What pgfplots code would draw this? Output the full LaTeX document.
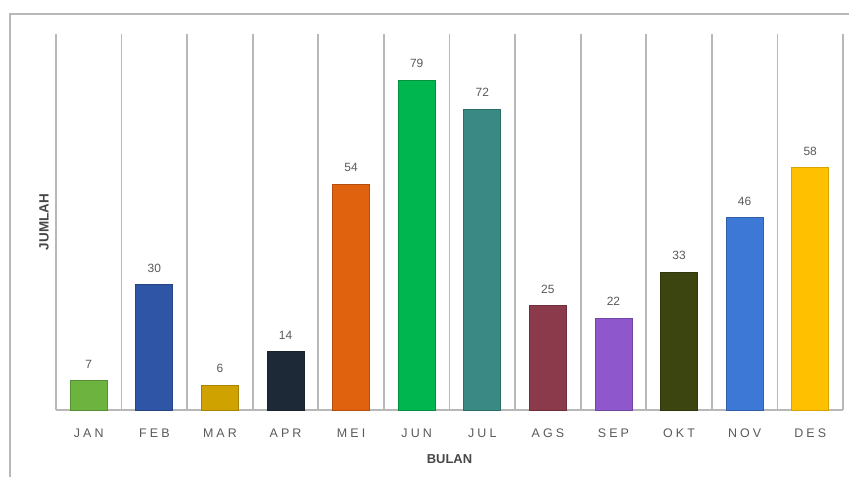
\documentclass[border=0pt]{standalone}
\usepackage{pgfplots}
\pgfplotsset{compat=1.18}
\usepackage{fontspec}
\setmainfont{Liberation Sans}
\newfontfamily\spacedfont[LetterSpace=25]{Liberation Sans}
\definecolor{gridgray}{HTML}{B8B8B8}
\definecolor{labgray}{HTML}{595959}
\definecolor{cJan}{HTML}{6CB43F}
\definecolor{cFeb}{HTML}{2F55A6}
\definecolor{cMar}{HTML}{CFA200}
\definecolor{cApr}{HTML}{1E2938}
\definecolor{cMei}{HTML}{E0620F}
\definecolor{cJun}{HTML}{00B74F}
\definecolor{cJul}{HTML}{3A8984}
\definecolor{cAgs}{HTML}{8A3A4A}
\definecolor{cSep}{HTML}{8E58CC}
\definecolor{cOkt}{HTML}{3C4410}
\definecolor{cNov}{HTML}{3D78D6}
\definecolor{cDes}{HTML}{FFC000}
\begin{document}
\begin{tikzpicture}[x=1bp,y=1bp]
\useasboundingbox (0,0) rectangle (849,477);
\draw[gridgray, line width=1.8bp] (10,0) -- (10,463) -- (849,463);
\node[rotate=90, font=\bfseries\fontsize{13.5}{15}\selectfont, text=labgray!80!black] at (44,255) {JUMLAH};
\begin{axis}[
  at={(56bp,67bp)}, anchor=south west,
  scale only axis, width=787bp, height=376bp,
  xmin=-0.5, xmax=11.5, ymin=0, ymax=90,
  axis x line*=bottom, axis y line=none,
  axis line style={gridgray, line width=1.6bp},
  xtick={0,...,11},
  xticklabels={JAN,FEB,MAR,APR,MEI,JUN,JUL,AGS,SEP,OKT,NOV,DES},
  major tick length=0pt,
  minor xtick={-0.5,0.5,...,11.5},
  minor tick length=0pt,
  xminorgrids=true,
  minor grid style={gridgray, line width=1.8bp},
  ytick=\empty,
  /pgf/number format/assume math mode=true,
  xticklabel style={font=\spacedfont\fontsize{12.5}{14}\selectfont, text=labgray, yshift=-15bp},
  xlabel={\textbf{BULAN}},
  xlabel style={font=\fontsize{13}{15}\selectfont, text=labgray!80!black, yshift=-10bp},
  ybar, bar width=37bp, bar shift=0pt,
  nodes near coords,
  every node near coord/.append style={font=\fontsize{12}{14}\selectfont, text=labgray, anchor=south, inner sep=0pt, yshift=12bp},
  clip=false,
]
\addplot[fill=cJan, draw=cJan!80!black, line width=0.8bp] coordinates {(0,7)};
\addplot[fill=cFeb, draw=cFeb!80!black, line width=0.8bp] coordinates {(1,30)};
\addplot[fill=cMar, draw=cMar!80!black, line width=0.8bp] coordinates {(2,6)};
\addplot[fill=cApr, draw=cApr!80!black, line width=0.8bp] coordinates {(3,14)};
\addplot[fill=cMei, draw=cMei!80!black, line width=0.8bp] coordinates {(4,54)};
\addplot[fill=cJun, draw=cJun!80!black, line width=0.8bp] coordinates {(5,79)};
\addplot[fill=cJul, draw=cJul!80!black, line width=0.8bp] coordinates {(6,72)};
\addplot[fill=cAgs, draw=cAgs!80!black, line width=0.8bp] coordinates {(7,25)};
\addplot[fill=cSep, draw=cSep!80!black, line width=0.8bp] coordinates {(8,22)};
\addplot[fill=cOkt, draw=cOkt!80!black, line width=0.8bp] coordinates {(9,33)};
\addplot[fill=cNov, draw=cNov!80!black, line width=0.8bp] coordinates {(10,46)};
\addplot[fill=cDes, draw=cDes!85!black, line width=0.8bp] coordinates {(11,58)};
\end{axis}
\end{tikzpicture}
\end{document}
